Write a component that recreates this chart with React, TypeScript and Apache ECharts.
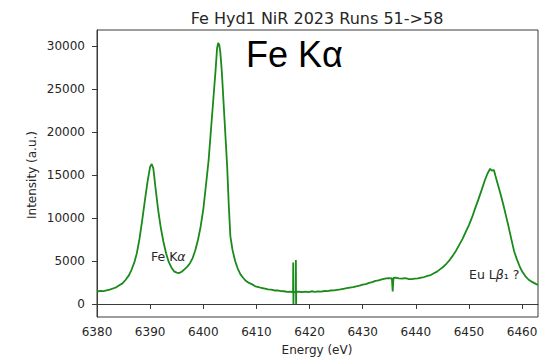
import React, { useEffect, useRef } from "react";
import * as echarts from "echarts";

const energy = [
  6380.0, 6380.6, 6381.2, 6381.8, 6382.4, 6383.0, 6383.6, 6384.2, 6384.8, 6385.4,
  6386.0, 6386.5, 6387.0, 6387.5, 6388.0, 6388.5, 6389.0, 6389.5, 6390.0, 6390.3,
  6390.6, 6391.0, 6391.5, 6392.0, 6392.5, 6393.0, 6393.5, 6394.0, 6394.5, 6395.0,
  6395.5, 6396.0, 6396.5, 6397.0, 6397.5, 6398.0, 6398.5, 6399.0, 6399.5, 6400.0,
  6400.5, 6401.0, 6401.5, 6402.0, 6402.3, 6402.6, 6402.8, 6403.0, 6403.2, 6403.5,
  6404.0, 6404.5, 6404.8, 6405.1, 6405.5, 6406.0, 6406.5, 6407.0, 6407.5, 6408.0,
  6408.6, 6409.2, 6409.8, 6410.4, 6411.0, 6411.6, 6412.2, 6412.8, 6413.4, 6414.0,
  6414.6, 6415.2, 6415.8, 6416.4, 6416.9, 6416.93, 6416.97, 6417.0, 6417.4, 6417.43,
  6417.47, 6417.5, 6418.0, 6418.6, 6419.2, 6419.8, 6420.4, 6421.0, 6421.6, 6422.2,
  6422.8, 6423.4, 6424.0, 6424.6, 6425.2, 6425.8, 6426.4, 6427.0, 6427.6, 6428.2,
  6428.8, 6429.4, 6430.0, 6430.6, 6431.2, 6431.8, 6432.4, 6433.0, 6433.6, 6434.2,
  6434.8, 6435.5, 6435.65, 6435.8, 6436.2, 6436.8, 6437.4, 6438.0, 6438.6, 6439.2,
  6439.8, 6440.4, 6441.0, 6441.6, 6442.2, 6442.8, 6443.4, 6444.0, 6444.6, 6445.2,
  6445.8, 6446.4, 6447.0, 6447.6, 6448.2, 6448.8, 6449.4, 6450.0, 6450.6, 6451.2,
  6451.8, 6452.4, 6453.0, 6453.5, 6454.0, 6454.3, 6454.7, 6455.0, 6455.5, 6456.0,
  6456.5, 6457.0, 6457.5, 6458.0, 6458.5, 6459.0, 6459.5, 6460.0, 6460.6, 6461.2,
  6461.8, 6462.4, 6463.0,
];

const intensity = [
  1450, 1520, 1490, 1580, 1660, 1800, 1940, 2180, 2400, 2820,
  3330, 3980, 4780, 5920, 7600, 9700, 12000, 14200, 16000, 16300,
  15800, 13600, 11000, 8900, 7250, 5900, 4900, 4250, 3800, 3650,
  3600, 3780, 4050, 4350, 4750, 5350, 6250, 7450, 9000, 11000,
  13800, 16700, 20700, 24700, 27100, 29800, 30400, 30200, 29400, 27000,
  21500, 16000, 11500, 7900, 6300, 5000, 4100, 3450, 3050, 2700,
  2450, 2280, 2060, 1970, 1860, 1790, 1700, 1660, 1570, 1590,
  1500, 1480, 1410, 1420, 1380, 4840, 0, 1400, 1380, 5120,
  0, 1400, 1440, 1370, 1430, 1390, 1480, 1420, 1470, 1440,
  1510, 1500, 1570, 1590, 1650, 1690, 1770, 1840, 1910, 1970,
  2060, 2140, 2260, 2320, 2460, 2550, 2690, 2750, 2860, 2940,
  3010, 2970, 1450, 3030, 3080, 2970, 2950, 3010, 2910, 2890,
  2940, 2970, 3060, 3140, 3270, 3370, 3570, 3770, 4060, 4340,
  4710, 5140, 5660, 6240, 6910, 7590, 8410, 9190, 10110, 11190,
  12210, 13290, 14410, 15200, 15750, 15550, 15600, 14900, 13800, 12700,
  11500, 10200, 8900, 7500, 6150, 5250, 4450, 3800, 3250, 2850,
  2600, 2400, 2200,
];

const xTicks = [6380, 6390, 6400, 6410, 6420, 6430, 6440, 6450, 6460];
const yTicks = [0, 5000, 10000, 15000, 20000, 25000, 30000];

const titleText = "Fe Hyd1 NiR 2023 Runs 51->58";
const bigLabel = "Fe Kα";
const xName = "Energy (eV)";
const yName = "Intensity (a.u.)";

export default function App() {
  const ref = useRef<HTMLDivElement>(null);
  useEffect(() => {
    if (!ref.current) return;
    const chart = echarts.init(ref.current, undefined, { renderer: "svg" });
    const data = energy.map((x, i) => [x, intensity[i]]);
    const dj = "DejaVu Sans";
    chart.setOption({
      animation: false,
      backgroundColor: "#ffffff",
      grid: {
        left: 97,
        right: 15,
        top: 30,
        bottom: 43,
        show: true,
        borderColor: "#3a3a3a",
        borderWidth: 1,
      },
      xAxis: {
        type: "value",
        min: 6380,
        max: 6463,
        interval: 10,
        splitLine: { show: false },
        axisLine: { show: true, lineStyle: { color: "#3a3a3a", width: 1 } },
        axisTick: {
          show: true,
          length: 5,
          inside: false,
          customValues: xTicks,
          lineStyle: { color: "#3a3a3a" },
        },
        axisLabel: {
          customValues: xTicks,
          formatter: (v: number) => String(v),
          margin: 9,
          color: "#262626",
          fontFamily: dj,
          fontSize: 12,
        },
      },
      yAxis: {
        type: "value",
        min: -1520,
        max: 31920,
        splitLine: { show: false },
        axisLine: { show: true, lineStyle: { color: "#3a3a3a", width: 1 } },
        axisTick: {
          show: true,
          length: 5,
          inside: false,
          customValues: yTicks,
          lineStyle: { color: "#3a3a3a" },
        },
        axisLabel: {
          customValues: yTicks,
          formatter: (v: number) => String(v),
          margin: 12,
          color: "#262626",
          fontFamily: dj,
          fontSize: 12,
        },
      },
      series: [
        {
          type: "line",
          data,
          showSymbol: false,
          symbol: "none",
          lineStyle: { color: "#1a8a1a", width: 1.8 },
          silent: true,
        },
      ],
      graphic: [
        {
          type: "text",
          x: 317,
          y: 18,
          style: {
            text: titleText,
            font: `16px "${dj}"`,
            fill: "#262626",
            align: "center",
            verticalAlign: "middle",
          },
        },
        {
          type: "text",
          x: 246,
          y: 54,
          style: {
            text: bigLabel,
            font: `36px "Liberation Sans", Arial, sans-serif`,
            fill: "#000000",
            align: "left",
            verticalAlign: "middle",
          },
        },
        {
          type: "text",
          x: 151,
          y: 256,
          style: {
            text: "Fe K{a|α}",
            font: `12.5px "${dj}"`,
            fill: "#262626",
            align: "left",
            verticalAlign: "middle",
            rich: {
              a: { fontStyle: "italic", fontFamily: dj, fontSize: 12.5, fill: "#262626" },
            },
          },
        },
        {
          type: "text",
          x: 469,
          y: 274,
          style: {
            text: "Eu L{b|β}{s|₁} ?",
            font: `12.5px "${dj}"`,
            fill: "#262626",
            align: "left",
            verticalAlign: "middle",
            rich: {
              b: { fontStyle: "italic", fontFamily: dj, fontSize: 12.5, fill: "#262626" },
              s: { fontFamily: dj, fontSize: 12.5, fill: "#262626" },
            },
          },
        },
        {
          type: "text",
          x: 317,
          y: 350,
          style: {
            text: xName,
            font: `12px "${dj}"`,
            fill: "#262626",
            align: "center",
            verticalAlign: "middle",
          },
        },
        {
          type: "text",
          x: 32,
          y: 175,
          rotation: Math.PI / 2,
          style: {
            text: yName,
            font: `12px "${dj}"`,
            fill: "#262626",
            align: "center",
            verticalAlign: "middle",
          },
        },
      ],
    });
    return () => chart.dispose();
  }, []);
  return (
    <div
      ref={ref}
      style={{ position: "fixed", left: 0, top: 0, width: 553, height: 360 }}
    />
  );
}
